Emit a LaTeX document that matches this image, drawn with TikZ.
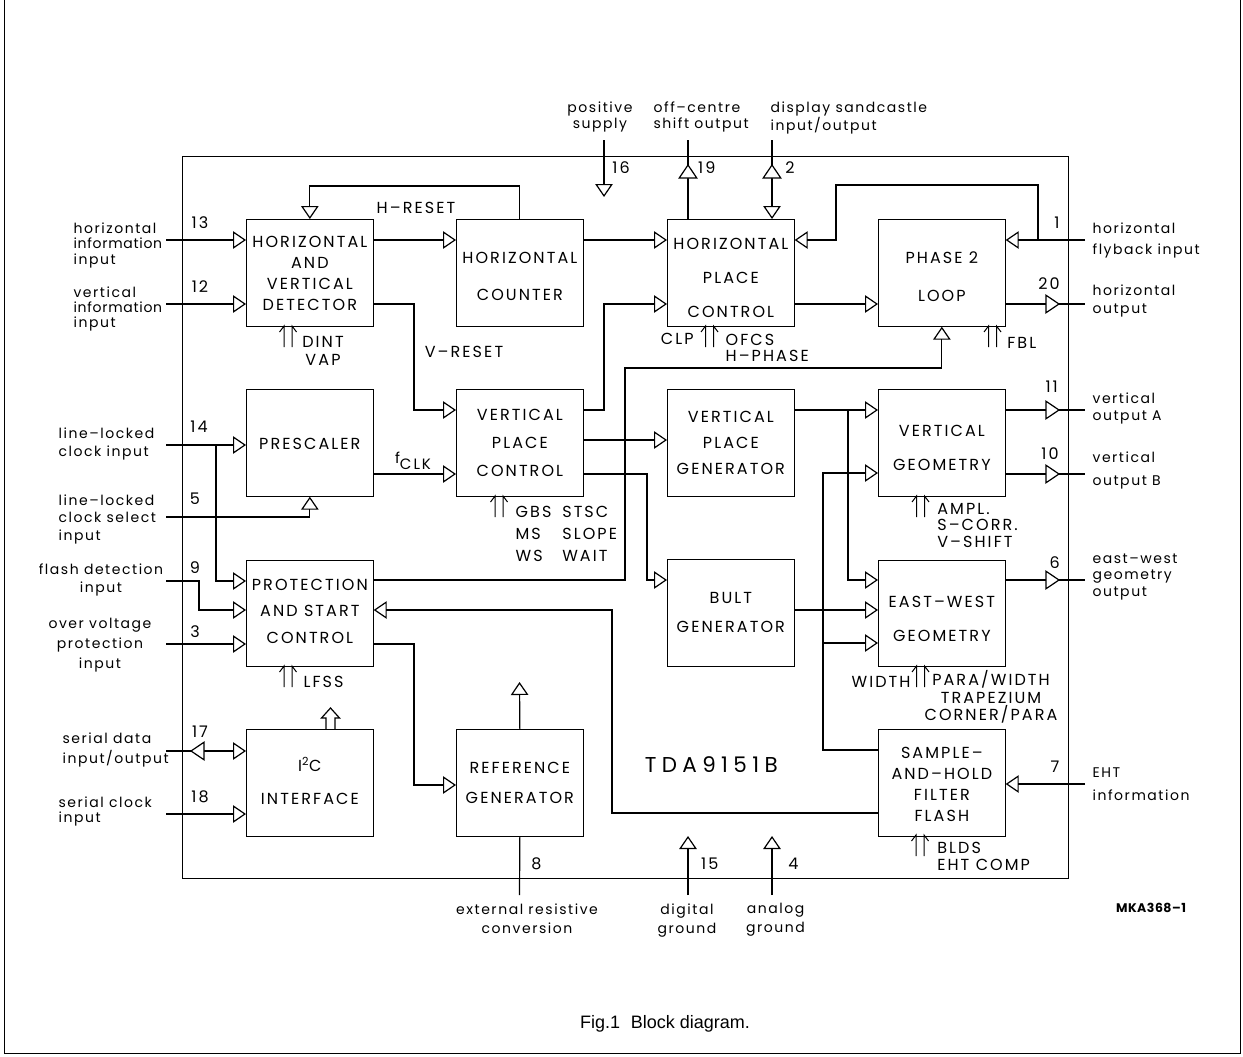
\documentclass[tikz,border=0pt]{standalone}
\usepackage{fontspec}
\newfontfamily\fU[LetterSpace=13]{Poppins}
\newfontfamily\fL[LetterSpace=11]{Poppins}
\newfontfamily\fC{Liberation Sans}
\usetikzlibrary{arrows.meta}
\newcommand{\narrowinfo}{{\addfontfeature{LetterSpace=5}information}}
\begin{document}
\begin{tikzpicture}[x=1pt,y=-1pt,line width=1.2pt,
  blk/.style={draw,minimum width=126.5pt,minimum height=106.5pt,inner sep=0pt,anchor=north west},
  btxt/.style={inner sep=0pt,align=center,font=\fU\fontsize{16}{#1}\selectfont},
  btxt/.default=20,
  lab/.style={inner sep=0pt,align=left,font=\fL\fontsize{14}{#1}\selectfont},
  lab/.default=16,
  captxt/.style={inner sep=0pt,align=left,font=\fU\fontsize{16}{#1}\selectfont},
  captxt/.default=17,
  pinno/.style={inner sep=0pt,font=\fU\fontsize{16}{16}\selectfont},
  arr/.style={-{Triangle[open,length=13pt,width=17.5pt]}},
  tri/.pic={\draw[fill=white,line join=miter] (0,0) -- (-13,-8.75) -- (-13,8.75) -- cycle;},
  dup/.pic={\draw[line width=1pt] (-4,21) -- (-4,0) -- (-8.5,6);
            \draw[line width=1pt] (4,21) -- (4,0) -- (8.5,6);}
]
\fill[white] (0,0) rectangle (1243,1057);
\useasboundingbox (0,0) rectangle (1243,1057);
\draw[line width=0.8pt] (4,0) -- (4,1053) -- (1240,1053) -- (1240,0);

% chip outline
\node[draw,minimum width=886pt,minimum height=722pt,inner sep=0pt,anchor=north west] (chip) at (182,156) {};

% blocks
\node[blk] (hvd) at (246,219) {};
\node[blk] (hc) at (456,219) {};
\node[blk] (hpc) at (667,219) {};
\node[blk] (p2l) at (878,219) {};
\node[blk] (pre) at (246,389) {};
\node[blk] (vpc) at (456,389) {};
\node[blk] (vpg) at (667,389) {};
\node[blk] (vg) at (878,389) {};
\node[blk] (psc) at (246,559.5) {};
\node[blk] (bult) at (667,559) {};
\node[blk] (ewg) at (878,559.5) {};
\node[blk] (i2c) at (246,729) {};
\node[blk] (ref) at (456,729) {};
\node[blk] (sh) at (878,729) {};

% block texts
\node[btxt=21] (thvd) at ([yshift=-1pt]hvd.center) {HORIZONTAL\\AND\\VERTICAL\\DETECTOR};
\node[btxt=37] (thc) at ([yshift=-4pt]hc.center) {HORIZONTAL\\COUNTER};
\node[btxt=34] (thpc) at ([yshift=-5.5pt]hpc.center) {HORIZONTAL\\PLACE\\CONTROL};
\node[btxt=38] (tp2l) at ([yshift=-4pt]p2l.center) {PHASE 2\\LOOP};
\node[btxt] (tpre) at ([yshift=-1pt]pre.center) {PRESCALER};
\node[btxt=28] (tvpc) at (vpc.center) {VERTICAL\\PLACE\\CONTROL};
\node[btxt=26] (tvpg) at (vpg.center) {VERTICAL\\PLACE\\GENERATOR};
\node[btxt=34] (tvg) at ([yshift=-5.5pt]vg.center) {VERTICAL\\GEOMETRY};
\node[btxt=26.5] (tpsc) at ([yshift=2pt]psc.center) {PROTECTION\\AND START\\CONTROL};
\node[btxt=29] (tbult) at (bult.center) {BULT\\GENERATOR};
\node[btxt=34] (tewg) at ([yshift=-6pt]ewg.center) {EAST–WEST\\GEOMETRY};
\node[btxt=33] (ti2c) at ([yshift=2pt]i2c.center) {I\textsuperscript{2}C\\INTERFACE};
\node[btxt=30.7] (tref) at (ref.center) {REFERENCE\\GENERATOR};
\node[btxt=21] (tsh) at ([yshift=-1.5pt]sh.center) {SAMPLE–\\AND–HOLD\\FILTER\\FLASH};

% pin end coordinates
\coordinate (p13) at (166,240);
\coordinate (p12) at (166,304);
\coordinate (p14) at (166,445);
\coordinate (p5) at (166,517);
\coordinate (p9) at (166,581);
\coordinate (p3) at (166,644);
\coordinate (p17) at (166,751);
\coordinate (p18) at (166,814);
\coordinate (p16a) at (604,140);
\coordinate (p16b) at (604,197);
\coordinate (p19) at (688,140);
\coordinate (p2) at (772,140);
\coordinate (p1) at (1085,240);
\coordinate (p20) at (1085,304);
\coordinate (p11) at (1085,410);
\coordinate (p10) at (1085,474);
\coordinate (p6) at (1085,580);
\coordinate (p7) at (1085,784);
\coordinate (p8) at (519.5,895);
\coordinate (p15) at (688,895);
\coordinate (t15) at (688,836);
\coordinate (p4) at (772,895);
\coordinate (t4) at (772,836);
\coordinate (rtop) at (519.5,682);
\coordinate (j14) at (216,445);
\coordinate (j1) at (1038,240);
\coordinate (j2) at (848,410);
\coordinate (j3) at (823,643);

% left pins
\draw[arr] (p13) -- (hvd.west |- p13);
\draw[arr] (p12) -- (hvd.west |- p12);
\draw[arr] (p14) -- (pre.west |- p14);
\draw[arr] (j14) -- (216,581) -- (psc.west |- 0,581);
\draw[arr] (p5) -- (pre.south |- p5) -- (pre.south);
\draw[arr] (p9) -- (199,581) -- (199,610) -- (psc.west |- 0,610);
\draw[arr] (p3) -- (psc.west |- p3);
\draw[arr] (p17) -- (i2c.west |- p17);
\draw[arr] (p18) -- (i2c.west |- p18);

% top area
\draw[arr] (hc.north) -- (hc.north |- 0,186) -- (hvd.north |- 0,186) -- (hvd.north);
\draw[arr] (hvd.east |- p13) -- (hc.west |- p13);
\draw[arr] (hvd.east |- p12) -- (414,304) -- (414,410) -- (vpc.west |- 0,410);
\draw[arr] (hc.east |- p13) -- (hpc.west |- p13);
\draw[arr] (vpc.east |- 0,410) -- (604,410) -- (604,304) -- (hpc.west |- 0,304);
\draw[arr] (hpc.east |- 0,304) -- (p2l.west |- 0,304);
\draw[arr] (p1) -- (p2l.east |- p1);
\draw[arr] (j1) -- (1038,185) -- (836,185) -- (836,240) -- (hpc.east |- 0,240);
\draw (p2l.east |- p20) -- (p20);
\draw[arr] (psc.east |- 0,580) -- (625,580) -- (625,368) -- (p2l.south |- 0,368) -- (p2l.south);
\draw[arr] (p16a) -- (p16b);
\draw (hpc.north -| p19) -- (p19);
\draw[arr] (p2) -- (hpc.north -| p2);

% middle
\draw[arr] (pre.east |- 0,474) -- (vpc.west |- 0,474);
\draw[arr] (vpc.east |- 0,440) -- (vpg.west |- 0,440);
\draw[arr] (vpc.east |- 0,474) -- (647,474) -- (647,580) -- (bult.west |- 0,580);
\draw[arr] (vpg.east |- 0,410) -- (vg.west |- 0,410);
\draw[arr] (j2) -- (848,580) -- (ewg.west |- 0,580);
\draw[arr] (bult.east |- 0,610) -- (ewg.west |- 0,610);
\draw[arr] (sh.west |- 0,750) -- (823,750) -- (823,473) -- (vg.west |- 0,473);
\draw[arr] (j3) -- (ewg.west |- j3);
\draw[arr] (sh.west |- 0,813) -- (612,813) -- (612,610) -- (psc.east |- 0,610);
\draw (vg.east |- p11) -- (p11);
\draw (vg.east |- p10) -- (p10);
\draw (ewg.east |- p6) -- (p6);
\draw[arr] (p7) -- (sh.east |- p7);
\draw[arr] (psc.east |- 0,644) -- (414,644) -- (414,785) -- (ref.west |- 0,785);
\draw[arr] (ref.north) -- (rtop);
\draw (ref.south) -- (p8);
\draw[arr] (p15) -- (t15);
\draw[arr] (p4) -- (t4);

% pin triangles on lines
\pic at (1059,304) {tri};
\pic at (1059,410) {tri};
\pic at (1059,474) {tri};
\pic at (1059,580) {tri};
\pic[rotate=180] at (191,751) {tri};
\pic[rotate=90] at (688,165) {tri};
\pic[rotate=90] at (772,165) {tri};

% control double arrows
\pic at (288,326) {dup};
\pic at (709.5,326) {dup};
\pic at (992.5,326) {dup};
\pic at (499,496) {dup};
\pic at (920.5,496) {dup};
\pic at (288,666) {dup};
\pic at (920.5,666) {dup};
\pic at (920,835) {dup};
\draw (326,729) -- (326,718) -- (321.5,718) -- (330.5,708) -- (339.5,718) -- (335,718) -- (335,729);

% pin numbers
\node[pinno] (n13) at (200,223) {13};
\node[pinno] (n12) at (200,287) {12};
\node[pinno] (n14) at (199,427) {14};
\node[pinno] (n5) at (195,499) {5};
\node[pinno] (n9) at (195,568) {9};
\node[pinno] (n3) at (195,632) {3};
\node[pinno] (n17) at (200,732) {17};
\node[pinno] (n18) at (200,796.5) {18};
\node[pinno] (n16) at (621,168) {16};
\node[pinno] (n19) at (706.7,168) {19};
\node[pinno] (n2) at (790,168) {2};
\node[pinno] (n1) at (1057,223) {1};
\node[pinno] (n20) at (1049,283.3) {20};
\node[pinno] (n11) at (1051.7,387.2) {11};
\node[pinno] (n10) at (1050,453.3) {10};
\node[pinno] (n6) at (1054.7,562.8) {6};
\node[pinno] (n7) at (1055,766.3) {7};
\node[pinno] (n8) at (536.3,864.2) {8};
\node[pinno] (n15) at (709.7,864.2) {15};
\node[pinno] (n4) at (793.5,864.2) {4};

% external labels
\node[lab=15.5,anchor=north west] (l13) at (73,222) {horizontal\\\narrowinfo\\input};
\node[lab=15,anchor=north west] (l12) at (73,286) {vertical\\\narrowinfo\\input};
\node[lab=18.7,anchor=north west] (l14) at (58,427) {line–locked\\clock input};
\node[lab=17.5,anchor=north west] (l5) at (58,494) {line–locked\\clock select\\input};
\node[lab=18.4,anchor=north,align=center] (l9) at (101,563) {flash detection\\input};
\node[lab=20,anchor=north,align=center] (l3) at (100,618) {over voltage\\protection\\input};
\node[lab=20,anchor=north west] (l17) at (62,732) {serial data\\input/output};
\node[lab=15,anchor=north west] (l18) at (58,796) {serial clock\\input};
\node[lab=16,anchor=north,align=center] (l16) at (600,101) {positive\\supply};
\node[lab=16,anchor=north west] (l19) at (653,101) {off–centre\\shift output};
\node[lab=16,anchor=north west] (l2) at (770,101) {display sandcastle\\input/output};
\node[lab=21.3,anchor=north west] (l1) at (1092,222) {horizontal\\flyback input};
\node[lab=18.7,anchor=north west] (l20) at (1092,284) {horizontal\\output};
\node[lab=17.3,anchor=north west] (l11) at (1092,392) {vertical\\output A};
\node[lab=23,anchor=north west] (l10) at (1092,451) {vertical\\output B};
\node[lab=16.7,anchor=north west] (l6) at (1092,553) {east–west\\geometry\\output};
\node[lab=22.7,anchor=north west] (l7) at (1092,767) {EHT\\information};
\node[lab=19,anchor=north,align=center] (l8) at (527,903) {external resistive\\conversion};
\node[lab=19,anchor=north,align=center] (l15) at (687,903) {digital\\ground};
\node[lab=19,anchor=north,align=center] (l4) at (775.5,903) {analog\\ground};

% internal labels
\node[captxt] (hres) at (416,208) {H–RESET};
\node[captxt] (vres) at (464,352) {V–RESET};
\node[captxt=17.3,anchor=north,align=center] (dint) at (323,336) {DINT\\VAP};
\node[captxt] (clp) at (677.3,338.7) {CLP};
\node[captxt=16.7,anchor=north west] (ofcs) at (725,333.3) {OFCS\\H–PHASE};
\node[captxt,anchor=north west] (fbl) at (1006.7,336.7) {FBL};
\node[inner sep=0pt] (fclk) at (413,461) {{\fL\fontsize{15}{15}\selectfont f}\raisebox{-6pt}{\fU\fontsize{15}{15}\selectfont CLK}};
\node[captxt=21.7,anchor=north west] (gbs) at (515,506) {GBS\\MS\\WS};
\node[captxt=21.7,anchor=north west] (stsc) at (561.7,506) {STSC\\SLOPE\\WAIT};
\node[captxt=16.7,anchor=north west] (ampl) at (936.7,502.3) {AMPL.\\S–CORR.\\V–SHIFT};
\node[captxt,anchor=north west] (lfss) at (303,676) {LFSS};
\node[captxt,anchor=north west] (width) at (851,676) {WIDTH};
\node[captxt=17.5,anchor=north,align=center] (para) at (991,670) {PARA/WIDTH\\TRAPEZIUM\\CORNER/PARA};
\node[captxt=16.7,anchor=north west] (blds) at (936.7,841.7) {BLDS\\EHT COMP};
\node[inner sep=0pt,font=\fU\addfontfeature{LetterSpace=25}\fontsize{21.5}{22}\selectfont] (tda) at (711.3,765) {TDA9151B};
\node[inner sep=0pt,font=\fU\bfseries\addfontfeature{LetterSpace=4}\fontsize{12.5}{13}\selectfont] (mka) at (1151,908.3) {MKA368–1};
\node[inner sep=0pt,font=\fC\fontsize{18}{20}\selectfont] (cap) at (665,1024) {Fig.1\hspace{0.6em}Block diagram.};
\end{tikzpicture}
\end{document}
